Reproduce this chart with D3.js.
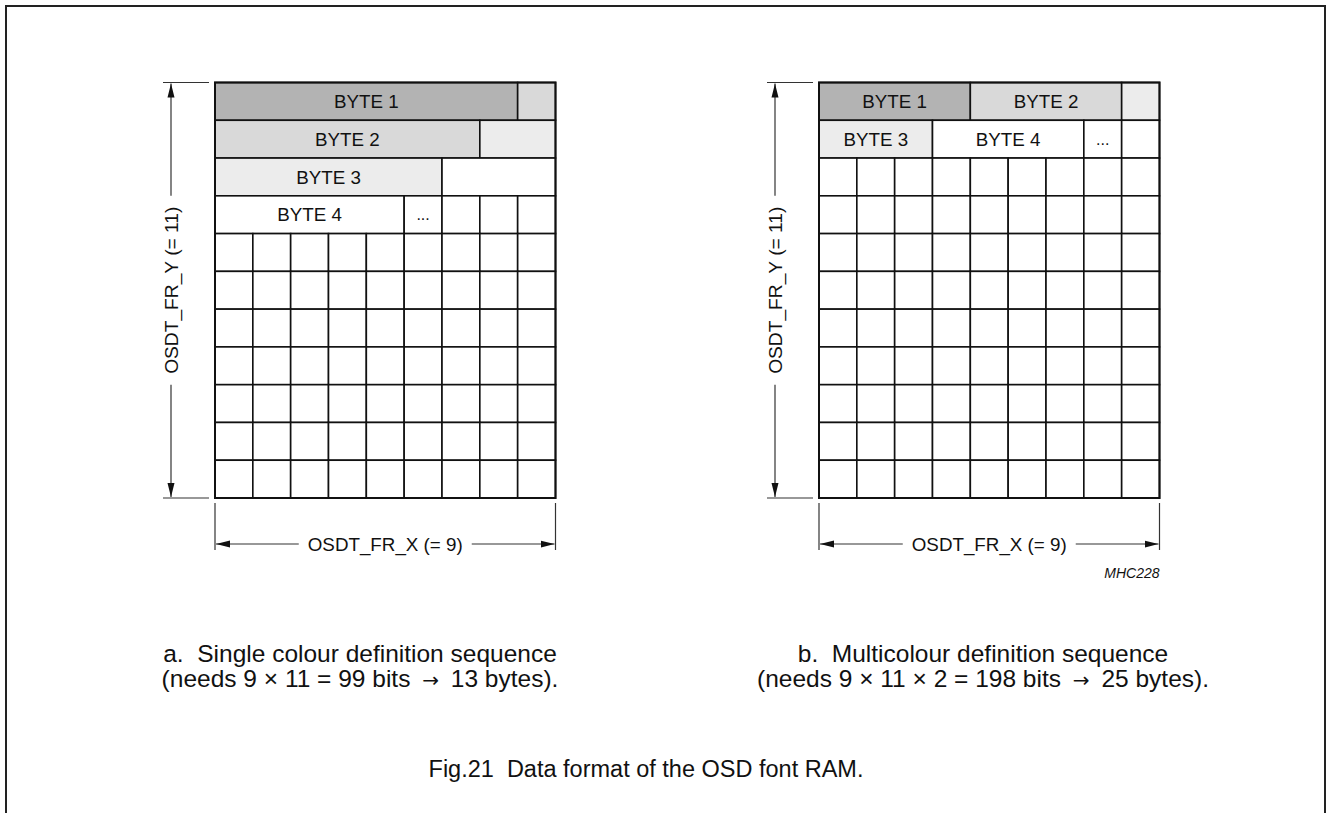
<!DOCTYPE html>
<html>
<head>
<meta charset="utf-8">
<script src="https://cdn.jsdelivr.net/npm/d3@7"></script>
<style>
  html, body { margin: 0; padding: 0; background: #fff; }
  svg { display: block; }
  text { font-family: "Liberation Sans", Arial, sans-serif; fill: #111; white-space: pre; }
  .sym { font-family: "DejaVu Sans", sans-serif; }
</style>
</head>
<body>
<svg id="chart" width="1327" height="813"></svg>
<script>
// ---------- data ----------
const gridCols = 9;          // OSDT_FR_X
const gridRows = 11;         // OSDT_FR_Y
const shadeLevels = [0, 1, 2, 3];   // 0 = none, 1 = byte 1, 2 = byte 2, 3 = byte 3
// segments: [row, startBit, bitCount, label, shade]
const singleSegments = [
  [0, 0, 8, "BYTE 1", 1], [0, 8, 1, "", 2],
  [1, 0, 7, "BYTE 2", 2], [1, 7, 2, "", 3],
  [2, 0, 6, "BYTE 3", 3], [2, 6, 3, "", 0],
  [3, 0, 5, "BYTE 4", 0], [3, 5, 1, "...", 0], [3, 6, 1, "", 0], [3, 7, 1, "", 0], [3, 8, 1, "", 0]
];
const multiSegments = [
  [0, 0, 4, "BYTE 1", 1], [0, 4, 4, "BYTE 2", 2], [0, 8, 1, "", 3],
  [1, 0, 3, "BYTE 3", 3], [1, 3, 4, "BYTE 4", 0], [1, 7, 1, "...", 0], [1, 8, 1, "", 0]
];
const xLabel = "OSDT_FR_X (= 9)";
const yLabel = "OSDT_FR_Y (= 11)";
// caption pieces: [text, isSymbol]
const captionA = [
  [["a.  Single colour definition sequence", false]],
  [["(needs 9 \u00D7 11 = 99 bits ", false], ["\u2192", true], [" 13 bytes).", false]]
];
const captionB = [
  [["b.  Multicolour definition sequence", false]],
  [["(needs 9 \u00D7 11 \u00D7 2 = 198 bits ", false], ["\u2192", true], [" 25 bytes).", false]]
];
const figTitle = "Fig.21  Data format of the OSD font RAM.";
const figCode = "MHC228";

// ---------- drawing ----------
const svg = d3.select("#chart");
const shadeColor = d3.scaleOrdinal().domain(shadeLevels).range(["#ffffff", "#b3b3b3", "#d9d9d9", "#ececec"]);

// frame
svg.append("path")
  .attr("d", "M6,813 L6,6 L1325,6 L1325,813")
  .attr("fill", "none").attr("stroke", "#222").attr("stroke-width", 2);

const defs = svg.append("defs");
defs.append("marker").attr("id", "arr")
  .attr("viewBox", "0 0 14 8").attr("refX", 14).attr("refY", 4)
  .attr("markerWidth", 14).attr("markerHeight", 8).attr("markerUnits", "userSpaceOnUse")
  .attr("orient", "auto")
  .append("path").attr("d", "M0,0.5 L14,4 L0,7.5 Z").attr("fill", "#111");

const LBL = 18.8;

function panel(x0, x1, y0, y1, segments, opts) {
  const x = d3.scaleLinear().domain([0, gridCols]).range([x0, x1]);
  const y = d3.scaleLinear().domain([0, gridRows]).range([y0, y1]);
  const g = svg.append("g");

  const segRows = new Set(segments.map(s => s[0]));
  const cells = [];
  for (let r = 0; r < gridRows; r++) {
    if (segRows.has(r)) continue;
    for (let c = 0; c < gridCols; c++) cells.push([r, c, 1, "", 0]);
  }
  const all = segments.concat(cells);

  g.selectAll("rect.seg").data(all).join("rect")
    .attr("class", "seg")
    .attr("x", d => x(d[1])).attr("y", d => y(d[0]))
    .attr("width", d => x(d[1] + d[2]) - x(d[1]))
    .attr("height", d => y(d[0] + 1) - y(d[0]))
    .attr("fill", d => shadeColor(d[4]))
    .attr("stroke", "#111").attr("stroke-width", 1.6);

  g.selectAll("text.lbl").data(segments.filter(d => d[3])).join("text")
    .attr("class", "lbl")
    .attr("x", d => (x(d[1]) + x(d[1] + d[2])) / 2)
    .attr("y", d => (y(d[0]) + y(d[0] + 1)) / 2)
    .attr("dy", "0.35em")
    .attr("text-anchor", "middle")
    .attr("font-size", d => d[3] === "..." ? 16 : LBL)
    .text(d => d[3]);

  g.append("rect").attr("x", x0).attr("y", y0).attr("width", x1 - x0).attr("height", y1 - y0)
    .attr("fill", "none").attr("stroke", "#111").attr("stroke-width", 2);

  const dim = svg.append("g").attr("stroke", "#333").attr("stroke-width", 1.2).attr("fill", "none");

  // vertical dimension
  const vx = x0 - 44;
  dim.append("line").attr("x1", vx - 8).attr("x2", x0 - 6).attr("y1", y0).attr("y2", y0);
  dim.append("line").attr("x1", vx - 8).attr("x2", x0 - 6).attr("y1", y1).attr("y2", y1);
  const ymid = (y0 + y1) / 2;
  const vt = svg.append("text")
    .attr("transform", `translate(${vx + 6.5},${ymid}) rotate(-90)`)
    .attr("text-anchor", "middle").attr("font-size", 19.2).text(yLabel);
  const vhalf = vt.node().getComputedTextLength() / 2 + 11;
  dim.append("line").attr("x1", vx).attr("x2", vx).attr("y1", ymid - vhalf).attr("y2", y0 + 1)
    .attr("marker-end", "url(#arr)");
  dim.append("line").attr("x1", vx).attr("x2", vx).attr("y1", ymid + vhalf).attr("y2", y1 - 1)
    .attr("marker-end", "url(#arr)");

  // horizontal dimension
  const hy = y1 + 46;
  dim.append("line").attr("x1", x0).attr("x2", x0).attr("y1", y1 + 5).attr("y2", y1 + 52);
  dim.append("line").attr("x1", x1).attr("x2", x1).attr("y1", y1 + 5).attr("y2", y1 + 52);
  const xmid = (x0 + x1) / 2;
  const ht = svg.append("text").attr("x", xmid).attr("y", hy).attr("dy", "0.35em")
    .attr("text-anchor", "middle").attr("font-size", LBL).text(xLabel);
  const hhalf = ht.node().getComputedTextLength() / 2 + 9;
  dim.append("line").attr("x1", xmid - hhalf).attr("x2", x0 + 1).attr("y1", hy).attr("y2", hy)
    .attr("marker-end", "url(#arr)");
  dim.append("line").attr("x1", xmid + hhalf).attr("x2", x1 - 1).attr("y1", hy).attr("y2", hy)
    .attr("marker-end", "url(#arr)");

  // caption
  opts.caption.forEach((line, i) => {
    const t = svg.append("text").attr("text-anchor", "middle").attr("font-size", 24.5)
      .attr("x", opts.capX).attr("y", 662 + i * 25);
    t.selectAll("tspan").data(line).join("tspan")
      .attr("class", d => d[1] ? "sym" : null)
      .attr("font-size", d => d[1] ? 20 : null)
      .attr("dx", (d, j) => (j > 0 ? 5 : 0))
      .text(d => d[0]);
  });

  if (opts.code) {
    svg.append("text").attr("x", x1).attr("y", 578).attr("text-anchor", "end")
      .attr("font-size", 14).attr("font-style", "italic").text(opts.code);
  }
}

panel(215, 555.5, 82.5, 498, singleSegments, { caption: captionA, capX: 360 });
panel(819, 1159.5, 82.5, 498, multiSegments, { caption: captionB, capX: 983, code: figCode });

svg.append("text").attr("x", 646).attr("y", 777).attr("text-anchor", "middle")
  .attr("font-size", 23.5).text(figTitle);
</script>
</body>
</html>
